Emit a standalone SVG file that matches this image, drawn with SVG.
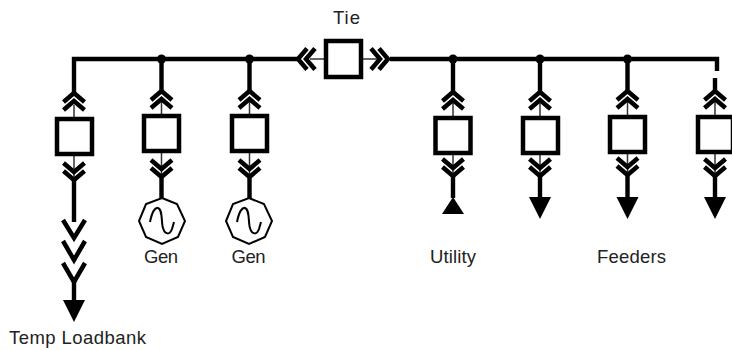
<svg xmlns="http://www.w3.org/2000/svg" width="732" height="350" viewBox="0 0 732 350">
<style>
text{font-family:"Liberation Sans",Arial,sans-serif;font-size:18.500px;fill:#222;text-anchor:middle}
.bus{fill:none;stroke:#000;stroke-width:4.400}
.thin{fill:none;stroke:#333;stroke-width:1.5}
.chev{fill:none;stroke:#000;stroke-width:4.500}
.box{fill:#fff;stroke:#000;stroke-width:4.500}
.gen{fill:#fff;stroke:#000;stroke-width:2}
.sine{fill:none;stroke:#000;stroke-width:2}
.tri{fill:#000}
.dot{fill:#000}
</style>
<defs>
<g id="cu"><path class="chev" d="M-10.500,9 L0,0 L10.500,9 M-10.500,17 L0,8 L10.500,17"/></g>
<g id="cd"><path class="chev" d="M-10.500,-9 L0,0 L10.500,-9 M-10.500,-17 L0,-8 L10.500,-17"/></g>
<polygon id="ad" class="tri" points="-11,0 11,0 0,22"/>
</defs>
<g id="connectors">
<path class="bus" d="M298,59 H74 V95 M390,59 H717 V71"/>
<path class="bus" d="M161.500,59 V93 M249.500,59 V93 M453,59 V93 M540,59 V93 M627.500,59 V93 M715,78 V93"/>
<circle class="dot" cx="161.500" cy="59" r="4.500"/><circle class="dot" cx="249.500" cy="59" r="4.500"/><circle class="dot" cx="453" cy="59" r="4.500"/><circle class="dot" cx="540" cy="59" r="4.500"/><circle class="dot" cx="627.500" cy="59" r="4.500"/>
<path class="thin" d="M74,105 V180 M161.500,100 V175 M249.500,100 V175 M453,100 V175 M540,100 V175 M627.500,100 V175 M715,100 V175 M310,59 H378"/>
<use href="#cu" x="74" y="93"/><use href="#cu" x="161.500" y="91"/><use href="#cu" x="249.500" y="91"/><use href="#cu" x="453" y="92"/><use href="#cu" x="540" y="92"/><use href="#cu" x="627.500" y="91"/><use href="#cu" x="715" y="91"/>
<use href="#cd" x="74" y="180"/><use href="#cd" x="161.500" y="177"/><use href="#cd" x="249.500" y="177"/><use href="#cd" x="453" y="176"/><use href="#cd" x="540" y="176"/><use href="#cd" x="627.500" y="175"/><use href="#cd" x="715" y="176"/>
<g transform="translate(298,59) rotate(-90)"><use href="#cu"/></g>
<g transform="translate(388,59) rotate(90)"><use href="#cu"/></g>
<path class="bus" d="M74,178 V222 M161.500,175 V198 M249.500,175 V198 M453,174 V198 M540,174 V198 M627.500,173 V198 M715,174 V198 M74,280 V300"/>
<path class="chev" d="M63,220 L74,238 L85,220 M63,241 L74,260 L85,241 M63,263 L74,282 L85,263"/>
<use href="#ad" x="74" y="300"/>
<polygon class="tri" points="442,214 464,214 453,197"/>
<use href="#ad" x="540" y="197"/><use href="#ad" x="627.500" y="197"/><use href="#ad" x="715" y="197"/>
</g>
<g id="breaker-tie"><rect class="box" x="326" y="41" width="35" height="36"/><text x="346.500" y="24" textLength="27">Tie</text></g>
<g id="breaker-loadbank"><rect class="box" x="57" y="119" width="35" height="35"/></g>
<g id="breaker-gen1"><rect class="box" x="144" y="116" width="35" height="35"/></g>
<g id="breaker-gen2"><rect class="box" x="232" y="116" width="35" height="35"/></g>
<g id="breaker-utility"><rect class="box" x="435.500" y="118" width="35" height="35"/></g>
<g id="breaker-feeder1"><rect class="box" x="523" y="118" width="35" height="35"/></g>
<g id="breaker-feeder2"><rect class="box" x="610" y="117" width="35" height="35"/></g>
<g id="breaker-feeder3"><rect class="box" x="698" y="117" width="35" height="35"/></g>
<g id="gen1"><polygon class="gen" points="162,198 177,204 185,221 178,237 162,244 146,237 139,221 146,204"/><path class="sine" d="M150,222 C152,212 155,207 158,208 C163,210 161,222 163,228 C165,235 170,235 172,229 L174,222"/><text x="161" y="263" textLength="34">Gen</text></g>
<g id="gen2"><polygon class="gen" points="249,198 264,204 272,221 265,237 249,244 233,237 226,221 233,204"/><path class="sine" d="M237,222 C239,212 242,207 245,208 C250,210 248,222 250,228 C252,235 257,235 259,229 L261,222"/><text x="248.500" y="263" textLength="34">Gen</text></g>
<g id="labels"><text x="453" y="263" textLength="46">Utility</text><text x="631.500" y="263" textLength="69">Feeders</text><text x="77.500" y="344" textLength="137">Temp Loadbank</text></g>
</svg>
